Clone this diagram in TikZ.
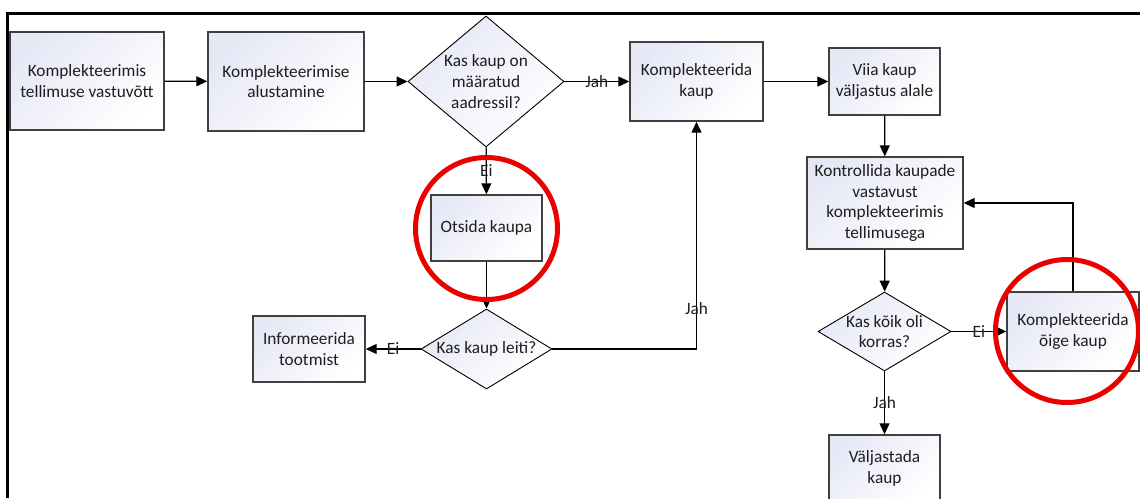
\documentclass[tikz,border=0pt]{standalone}
\usepackage{fontspec}
\setmainfont{Carlito}
\usetikzlibrary{arrows.meta,shapes.geometric}
\definecolor{lav}{RGB}{230,232,246}
\definecolor{boxline}{RGB}{64,64,64}
\definecolor{txt}{RGB}{30,30,30}
\definecolor{mark}{RGB}{235,0,0}
\tikzset{
  fs/.style={font=\fontsize{17.3}{20.7}\selectfont, text=txt},
  procbox/.style={rectangle, draw=boxline, line width=1.4pt, top color=lav, bottom color=white,
    shading angle=45, align=center, inner sep=0pt, fs},
  decision/.style={diamond, draw=black, line width=0.9pt, top color=lav, bottom color=white,
    shading angle=45, inner sep=0pt},
  dtext/.style={fs, align=center, inner sep=0pt},
  flow/.style={line width=1.2pt, -{Triangle[length=11pt,width=10pt]}},
  lbl/.style={fs, inner sep=0pt},
  ring/.style={draw=mark, line width=5pt},
}
\begin{document}
\begin{tikzpicture}[x=1pt,y=-1pt]
  \useasboundingbox (0,0) rectangle (1140,498);
  % outer frame (left and top edges)
  \draw[line width=3pt] (7,498) -- (7,13) -- (1140,13);

  % process boxes and decisions
  \node[procbox, minimum width=154pt, minimum height=98pt] (b1) at (87,81) {Komplekteerimis\\tellimuse vastuvõtt};
  \node[procbox, minimum width=156pt, minimum height=99pt] (b2) at (286,81.5) {Komplekteerimise\\alustamine};
  \node[decision, minimum width=156pt, minimum height=131pt,
        label={[dtext]center:Kas kaup on\\määratud\\aadressil?}] (d1) at (486,81.5) {};
  \node[procbox, minimum width=133pt, minimum height=79pt] (b3) at (696.5,81.5) {Komplekteerida\\kaup};
  \node[procbox, minimum width=111pt, minimum height=67pt] (b4) at (884.5,81.5) {Viia kaup\\väljastus alale};
  \node[procbox, minimum width=156pt, minimum height=92pt] (b5) at (885,203) {Kontrollida kaupade\\vastavust\\komplekteerimis\\tellimusega};
  \node[decision, minimum width=133pt, minimum height=79pt,
        label={[dtext]center:Kas kõik oli\\korras?}] (d3) at (884.5,331.5) {};
  \node[procbox, minimum width=132pt, minimum height=79pt] (b6) at (1073,331.5) {Komplekteerida\\õige kaup};
  \node[procbox, minimum width=111pt, minimum height=67pt] (b7) at (884.5,468.5) {Väljastada\\kaup};
  \node[procbox, minimum width=111pt, minimum height=66pt] (b8) at (486.5,228) {Otsida kaupa};
  \node[decision, minimum width=131pt, minimum height=80pt,
        label={[dtext]center:Kas kaup leiti?}] (d2) at (486.5,349) {};
  \node[procbox, minimum width=112pt, minimum height=66pt] (b9) at (309,349) {Informeerida\\tootmist};

  % connectors
  \draw[flow] (b1) -- (b2);
  \draw[flow] (b2) -- (d1);
  \draw[flow] (d1) -- node[lbl] {Jah} (b3);
  \draw[flow] (b3) -- (b4);
  \draw[flow] (b4) -- (b5);
  \draw[flow] (b5) -- (d3);
  \draw[flow] (d3) -- node[lbl] {Ei} (b6);
  \draw[flow] (d3) -- node[lbl] {Jah} (b7);
  \draw[flow] (b6.north) |- (b5.east);
  \draw[flow] (d1) -- node[lbl] {Ei} (b8);
  \draw[flow] (b8) -- (d2);
  \draw[flow] (d2) -- node[lbl] {Ei} (b9);
  \draw[flow] (d2.east) -| node[lbl, pos=0.59] {Jah} (b3.south);

  % highlight rings
  \node[circle, ring, minimum size=142pt, inner sep=0pt] (r1) at (486.5,228.5) {};
  \node[circle, ring, minimum size=143pt, inner sep=0pt] (r2) at (1067,331) {};
\end{tikzpicture}
\end{document}
